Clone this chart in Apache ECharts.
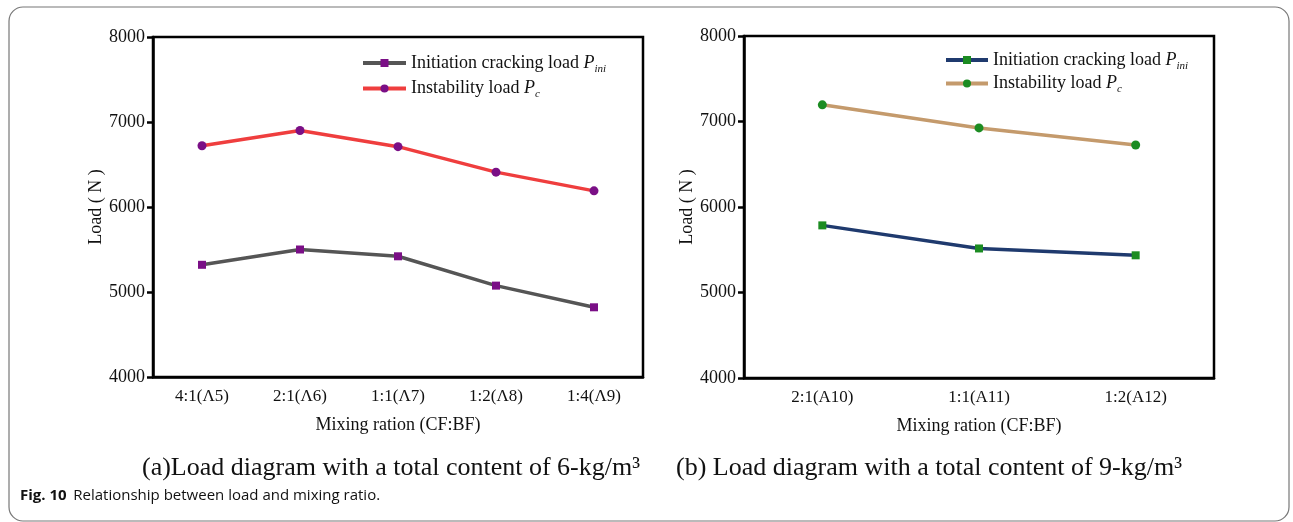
<!DOCTYPE html>
<html>
<head>
<meta charset="utf-8">
<script src="https://cdn.jsdelivr.net/npm/echarts@6/dist/echarts.min.js"></script>
<style>
html,body{margin:0;padding:0;background:#fff;}
#c{width:1293px;height:522px;}
</style>
</head>
<body>
<div id="c"></div>
<script>
// ---- data ----
var catsA = ['4:1(\u039B5)', '2:1(\u039B6)', '1:1(\u039B7)', '1:2(\u039B8)', '1:4(\u039B9)'];
var iniA = [5320, 5500, 5420, 5075, 4820];
var pcA = [6720, 6900, 6710, 6410, 6190];
var catsB = ['2:1(A10)', '1:1(A11)', '1:2(A12)'];
var iniB = [5785, 5515, 5435];
var pcB = [7195, 6925, 6725];
var yTicks = [4000, 5000, 6000, 7000, 8000];
var nameIni = 'Initiation cracking load Pini';
var namePc = 'Instability load Pc';
var nameIniB = 'Initiation cracking load Pini ';
var namePcB = 'Instability load Pc ';

var serif = '"Liberation Serif", "DejaVu Serif", serif';
var chart = echarts.init(document.getElementById('c'));

function legendFmt(n) {
  if (n.indexOf('Pini') >= 0) return '{t|Initiation cracking load }{p|P}{s|ini}';
  return '{t|Instability load }{p|P}{s|c}';
}
var legendRich = {
  t: {fontFamily: serif, fontSize: 18, color: '#111'},
  p: {fontFamily: serif, fontSize: 18, fontStyle: 'italic', color: '#111'},
  s: {fontFamily: serif, fontSize: 11, fontStyle: 'italic', color: '#111', padding: [12, 0, 0, 0]}
};

function xAxisCfg(idx, cats) {
  return {
    type: 'category', gridIndex: idx, data: cats, boundaryGap: true,
    name: 'Mixing ration (CF:BF)', nameLocation: 'middle', nameGap: 39,
    nameTextStyle: {fontFamily: serif, fontSize: 18, color: '#111'},
    axisLine: {lineStyle: {color: '#000', width: 2.5}},
    axisTick: {alignWithLabel: true, length: 6, lineStyle: {color: '#000', width: 2.5}},
    axisLabel: {fontFamily: serif, fontSize: 17, color: '#111', margin: 11},
    splitLine: {show: false}
  };
}
function yAxisCfg(idx) {
  return {
    type: 'value', gridIndex: idx, min: yTicks[0], max: yTicks[yTicks.length - 1], interval: 1000,
    name: 'Load ( N )', nameLocation: 'middle', nameGap: 47, nameRotate: 90,
    nameTextStyle: {fontFamily: serif, fontSize: 18, color: '#111'},
    axisLine: {show: true, lineStyle: {color: '#000', width: 2.5}},
    axisTick: {show: true, length: 6, lineStyle: {color: '#000', width: 2.5}},
    axisLabel: {fontFamily: serif, fontSize: 18, color: '#111', margin: 8, formatter: function (v) { return String(v); }},
    splitLine: {show: false}
  };
}
function lineSeries(name, xi, data, color, symbol, symColor) {
  return {
    name: name, type: 'line', xAxisIndex: xi, yAxisIndex: xi, data: data,
    symbol: symbol, symbolSize: symbol === 'rect' ? 8 : 9, showSymbol: true,
    lineStyle: {color: color, width: 3.5},
    itemStyle: {color: symColor, borderWidth: 0},
    z: 3
  };
}

var option = {
  animation: false,
  backgroundColor: '#fff',
  grid: [
    {left: 153, top: 37, width: 490, height: 340, show: true, borderColor: '#000', borderWidth: 2.5, backgroundColor: 'transparent'},
    {left: 744, top: 36, width: 470, height: 342, show: true, borderColor: '#000', borderWidth: 2.5, backgroundColor: 'transparent'}
  ],
  xAxis: [xAxisCfg(0, catsA), xAxisCfg(1, catsB)],
  yAxis: [yAxisCfg(0), yAxisCfg(1)],
  legend: [
    {data: [nameIni, namePc], left: 361, top: 54, padding: 0, orient: 'vertical', itemWidth: 43, itemHeight: 10, itemGap: 5,
     formatter: legendFmt, textStyle: {rich: legendRich}, lineStyle: {width: 4}},
    {data: [nameIniB, namePcB], left: 944, top: 51, padding: 0, orient: 'vertical', itemWidth: 42, itemHeight: 10, itemGap: 3,
     formatter: legendFmt, textStyle: {rich: legendRich}, lineStyle: {width: 4}}
  ],
  series: [
    lineSeries(nameIni, 0, iniA, '#555555', 'rect', '#7a0f86'),
    lineSeries(namePc, 0, pcA, '#ef3e3e', 'circle', '#7a0f86'),
    lineSeries(nameIniB, 1, iniB, '#1f3a6e', 'rect', '#1c8c22'),
    lineSeries(namePcB, 1, pcB, '#c49a6c', 'circle', '#1c8c22')
  ],
  graphic: [
    {type: 'rect', shape: {x: 9, y: 7, width: 1280, height: 514, r: 14}, style: {fill: 'none', stroke: '#777', lineWidth: 1.2}, silent: true, z: -1},
    {type: 'text', left: 142, top: 455, style: {text: '(a)Load diagram with a total content of 6-kg/m\u00B3', font: '26px "Liberation Serif", serif', fill: '#111'}},
    {type: 'text', left: 676, top: 455, style: {text: '(b) Load diagram with a total content of 9-kg/m\u00B3', font: '26px "Liberation Serif", serif', fill: '#111'}},
    {type: 'text', left: 20, top: 488, style: {
      text: '{b|Fig. 10}  {r|Relationship between load and mixing ratio.}',
      rich: {
        b: {fontFamily: '"Open Sans", "Noto Sans", sans-serif', fontWeight: 'bold', fontSize: 15, fill: '#111'},
        r: {fontFamily: '"Open Sans", "Noto Sans", sans-serif', fontSize: 15, fill: '#111'}
      }
    }}
  ]
};
chart.setOption(option);
</script>
</body>
</html>
